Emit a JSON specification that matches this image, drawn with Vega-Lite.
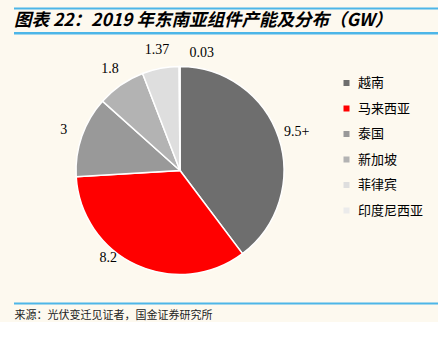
{
  "$schema": "https://vega.github.io/schema/vega-lite/v6.json",
  "autosize": {"type": "pad"},
  "padding": {"left": 13, "top": 7.5, "right": 0, "bottom": 0},
  "background": "#fdf9ef",
  "spacing": 0,
  "bounds": "flush",
  "config": {
    "view": {"stroke": null},
    "font": "Noto Sans CJK SC"
  },
  "title": {
    "text": "图表 22：2019 年东南亚组件产能及分布（GW）",
    "anchor": "start",
    "frame": "group",
    "offset": 6,
    "dy": 28,
    "fontSize": 17.5,
    "fontStyle": "italic",
    "fontWeight": "bold",
    "color": "#000000",
    "font": "Noto Sans CJK SC"
  },
  "data": {
    "values": [
      {"country": "越南", "value": 9.5, "label": "9.5+", "rank": 1},
      {"country": "马来西亚", "value": 8.2, "label": "8.2", "rank": 2},
      {"country": "泰国", "value": 3, "label": "3", "rank": 3},
      {"country": "新加坡", "value": 1.8, "label": "1.8", "rank": 4},
      {"country": "菲律宾", "value": 1.37, "label": "1.37", "rank": 5},
      {"country": "印度尼西亚", "value": 0.03, "label": "0.03", "rank": 6}
    ]
  },
  "vconcat": [
    {
      "width": 424,
      "height": 24.5,
      "view": {"stroke": "#4db6e8", "strokeWidth": 2, "strokeDash": [424, 24.5, 424, 24.5]},
      "mark": {"type": "point", "opacity": 0}
    },
    {
      "width": 424,
      "height": 270,
      "view": {"stroke": "#4db6e8", "strokeWidth": 2, "strokeDash": [424, 270, 424, 270]},
      "encoding": {
        "theta": {"field": "value", "type": "quantitative", "stack": true},
        "order": {"field": "rank", "type": "quantitative"}
      },
      "layer": [
        {
          "mark": {"type": "tick", "opacity": 0},
          "encoding": {
            "x": {
              "field": "value",
              "type": "quantitative",
              "axis": {
                "orient": "bottom",
                "title": "来源：光伏变迁见证者，国金证券研究所",
                "titleAnchor": "start",
                "titleAlign": "left",
                "titleFontSize": 11,
                "titleFontWeight": "normal",
                "titleColor": "#222222",
                "titleFont": "Noto Sans CJK SC",
                "titlePadding": 6,
                "domain": false,
                "ticks": false,
                "labels": false,
                "grid": false
              }
            }
          }
        },
        {
          "mark": {"type": "arc", "x": 166, "y": 137, "outerRadius": 104, "stroke": "#ffffff", "strokeWidth": 1.5},
          "encoding": {
            "color": {
              "field": "country",
              "type": "nominal",
              "scale": {
                "domain": ["越南", "马来西亚", "泰国", "新加坡", "菲律宾", "印度尼西亚"],
                "range": ["#6e6e6e", "#ff0000", "#999999", "#b3b3b3", "#dedede", "#ebebeb"]
              },
              "legend": {
                "title": null,
                "orient": "none",
                "legendX": 326,
                "legendY": 68,
                "padding": 0,
                "symbolType": "square",
                "symbolSize": 36,
                "symbolStrokeWidth": 0,
                "labelFontSize": 13,
                "labelColor": "#000000",
                "labelFont": "Noto Sans CJK SC",
                "labelOffset": 5,
                "rowPadding": 11.5
              }
            }
          }
        },
        {
          "mark": {"type": "text", "x": 166, "y": 137, "radius": 123, "font": "Liberation Serif", "fontSize": 14, "color": "#000000", "baseline": "middle"},
          "encoding": {
            "text": {"field": "label"},
            "opacity": {"condition": {"test": "datum.rank == 2 || datum.rank == 6", "value": 0}, "value": 1}
          }
        },
        {
          "mark": {"type": "text", "x": 166, "y": 137, "radius": 123, "dx": -20, "dy": -24, "font": "Liberation Serif", "fontSize": 14, "color": "#000000", "baseline": "middle"},
          "encoding": {
            "text": {"field": "label"},
            "opacity": {"condition": {"test": "datum.rank == 2", "value": 1}, "value": 0}
          }
        },
        {
          "mark": {"type": "text", "x": 166, "y": 137, "radius": 118, "dx": 10, "align": "left", "font": "Liberation Serif", "fontSize": 14, "color": "#000000", "baseline": "middle"},
          "encoding": {
            "text": {"field": "label"},
            "opacity": {"condition": {"test": "datum.rank == 6", "value": 1}, "value": 0}
          }
        }
      ]
    }
  ]
}
